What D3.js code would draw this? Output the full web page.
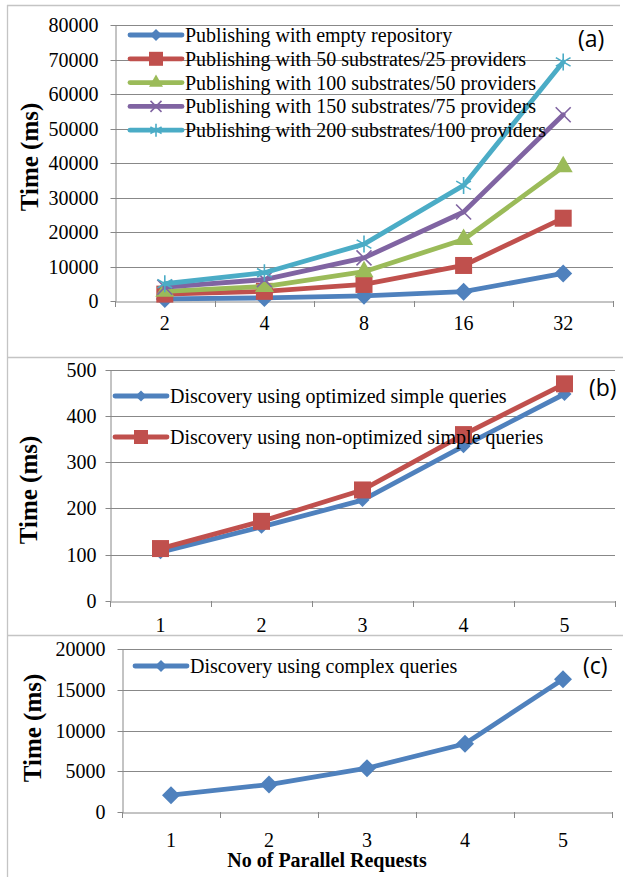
<!DOCTYPE html>
<html><head><meta charset="utf-8">
<script src="https://d3js.org/d3.v7.min.js"></script>
<style>
html,body{margin:0;padding:0;background:#fff;}
svg{display:block;}
text{font-family:"Liberation Serif","Times New Roman",serif;fill:#000;}
text.tag{font-family:"Open Sans","Noto Sans",sans-serif;}
</style></head>
<body>
<svg id="chart" width="623" height="877"></svg>
<script>
// ---------- DATA ----------
const catsA = ["2", "4", "8", "16", "32"];
const namesA = [
  "Publishing with empty repository",
  "Publishing with 50 substrates/25 providers",
  "Publishing with 100 substrates/50 providers",
  "Publishing with 150 substrates/75 providers",
  "Publishing with 200 substrates/100 providers"
];
const pubEmpty = [600, 900, 1500, 2700, 8000];
const pub50 = [2000, 2800, 4800, 10300, 24000];
const pub100 = [2800, 4200, 8500, 17800, 38900];
const pub150 = [4000, 6200, 12500, 25800, 54000];
const pub200 = [5000, 8200, 16500, 33500, 69300];
const ticksA = [0, 10000, 20000, 30000, 40000, 50000, 60000, 70000, 80000];

const catsB = ["1", "2", "3", "4", "5"];
const namesB = ["Discovery using optimized simple queries", "Discovery using non-optimized simple queries"];
const discOpt = [105, 160, 218, 335, 448];
const discNonOpt = [113, 172, 240, 360, 470];
const ticksB = [0, 100, 200, 300, 400, 500];

const catsC = ["1", "2", "3", "4", "5"];
const namesC = ["Discovery using complex queries"];
const discComplex = [2100, 3400, 5400, 8400, 16300];
const ticksC = [0, 5000, 10000, 15000, 20000];

const yTitle = "Time (ms)";
const xTitle = "No of Parallel Requests";

// ---------- STYLE ----------
const C = {blue:"#4F81BD", red:"#C0504D", green:"#9BBB59", purple:"#8064A2", cyan:"#4BACC6"};
const grid = "#888888";
const frame = "#c4c4c4";

const svg = d3.select("#chart");

// panel frames
const fr = svg.append("g").attr("stroke", frame).attr("stroke-width", 1.3).attr("fill", "none");
fr.append("line").attr("x1", 7.5).attr("x2", 7.5).attr("y1", 5).attr("y2", 877);
fr.append("line").attr("x1", 7).attr("x2", 620).attr("y1", 5.5).attr("y2", 5.5);
fr.append("line").attr("x1", 7).attr("x2", 623).attr("y1", 357.5).attr("y2", 357.5);
fr.append("line").attr("x1", 7).attr("x2", 623).attr("y1", 635.5).attr("y2", 635.5);

function marker(g, type, color, s) {
  let sym, rot = 0, fill = color, stroke = "none", sw = 0;
  if (type === "diamond") { sym = d3.symbol(d3.symbolSquare, (s / Math.SQRT2) ** 2); rot = 45; }
  else if (type === "square") { sym = d3.symbol(d3.symbolSquare, s * s); }
  else if (type === "triangle") { sym = d3.symbol(d3.symbolTriangle, s * s * Math.sqrt(3) / 4); }
  else if (type === "x") { sym = d3.symbol(d3.symbolX, (s / 2 / 0.6189) ** 2 + 1.7); fill = "none"; stroke = color; sw = 1.6; }
  else if (type === "asterisk") { sym = d3.symbol(d3.symbolAsterisk, (s / 2 / 0.59436) ** 2 - 0.75); fill = "none"; stroke = color; sw = 1.6; }
  return g.append("path").attr("d", sym())
    .attr("transform", (g.attr("data-t") || "") + (rot ? ` rotate(${rot})` : ""))
    .attr("fill", fill).attr("stroke", stroke).attr("stroke-width", sw);
}

function panel(cfg) {
  const g = svg.append("g");
  const x = d3.scaleBand().domain(cfg.cats).range([cfg.x0, cfg.x1]).padding(0);
  const y = d3.scaleLinear().domain([0, cfg.ymax]).range([cfg.yb, cfg.yt]);

  // gridlines
  g.append("g").selectAll("line").data(cfg.ticks.filter(d => d > 0)).join("line")
    .attr("x1", cfg.x0).attr("x2", cfg.x1)
    .attr("y1", d => Math.round(y(d)) + 0.5).attr("y2", d => Math.round(y(d)) + 0.5)
    .attr("stroke", grid).attr("stroke-width", 1);

  // y axis
  const ya = g.append("g").attr("transform", `translate(${cfg.x0 + 0.5},0)`)
    .call(d3.axisLeft(y).tickValues(cfg.ticks).tickSize(5).tickSizeOuter(0).tickPadding(cfg.ypad).tickFormat(d3.format("d")));
  ya.select(".domain").attr("stroke", grid);
  ya.selectAll(".tick line").attr("stroke", grid);
  ya.selectAll(".tick text").attr("font-size", 20).attr("fill", "#000");
  ya.selectAll(".tick").attr("transform", d => `translate(0,${Math.round(y(d)) + 0.5})`);

  // x axis (labels centred in bands, ticks on band boundaries)
  const xa = g.append("g").attr("transform", `translate(0,${Math.round(cfg.yb) + 0.5})`)
    .call(d3.axisBottom(x).tickSize(0).tickPadding(cfg.xpad));
  xa.select(".domain").attr("stroke", grid);
  xa.selectAll(".tick text").attr("font-size", 20).attr("fill", "#000");
  const bounds = cfg.cats.map(c => x(c)).concat([cfg.x1]);
  g.append("g").selectAll("line").data(bounds).join("line")
    .attr("x1", d => Math.round(d) + 0.5).attr("x2", d => Math.round(d) + 0.5)
    .attr("y1", Math.round(cfg.yb)).attr("y2", Math.round(cfg.yb) + 6)
    .attr("stroke", grid);

  // y title
  g.append("text").text(yTitle)
    .attr("transform", `translate(${cfg.ytx},${cfg.yty}) rotate(-90)`)
    .attr("text-anchor", "middle").attr("dominant-baseline", "central")
    .attr("font-weight", "bold").attr("font-size", 25);

  // series
  const line = d3.line().x((d, i) => x(cfg.cats[i]) + x.bandwidth() / 2).y(d => y(d));
  cfg.series.forEach(s => {
    g.append("path").datum(s.values).attr("d", line)
      .attr("fill", "none").attr("stroke", s.color).attr("stroke-width", 4.8)
      .attr("stroke-linejoin", "round").attr("stroke-linecap", "round");
    s.values.forEach((v, i) => {
      const mg = g.append("g");
      mg.attr("data-t", `translate(${x(cfg.cats[i]) + x.bandwidth() / 2},${y(v)})`);
      marker(mg, s.marker, s.color, s.size);
    });
  });

  // legend
  cfg.series.forEach((s, i) => {
    const ly = cfg.ly + i * cfg.lstep;
    g.append("line").attr("x1", cfg.lx).attr("x2", cfg.lx + 52).attr("y1", ly).attr("y2", ly)
      .attr("stroke", s.color).attr("stroke-width", 4.8).attr("stroke-linecap", "round");
    const mg = g.append("g").attr("data-t", `translate(${cfg.lx + 26},${ly})`);
    marker(mg, s.marker, s.color, s.lsize);
    g.append("text").text(s.name).attr("x", cfg.lx + 55).attr("y", ly)
      .attr("dominant-baseline", "central").attr("font-size", 20);
  });

  // panel tag
  g.append("text").attr("class", "tag").text(cfg.tag).attr("x", cfg.tagx).attr("y", cfg.tagy)
    .attr("dominant-baseline", "central").attr("font-size", 23);
}

panel({
  cats: catsA, ymax: 80000, ticks: ticksA,
  x0: 115, x1: 613, yb: 301, yt: 25, ypad: 12, xpad: 14,
  ytx: 29, yty: 157,
  lx: 130, ly: 35, lstep: 23.8,
  tag: "(a)", tagx: 578, tagy: 38,
  series: [
    {name: namesA[0], values: pubEmpty, color: C.blue, marker: "diamond", size: 18, lsize: 12},
    {name: namesA[1], values: pub50, color: C.red, marker: "square", size: 17, lsize: 14},
    {name: namesA[2], values: pub100, color: C.green, marker: "triangle", size: 19, lsize: 14},
    {name: namesA[3], values: pub150, color: C.purple, marker: "x", size: 15, lsize: 11},
    {name: namesA[4], values: pub200, color: C.cyan, marker: "asterisk", size: 17, lsize: 13}
  ]
});

panel({
  cats: catsB, ymax: 500, ticks: ticksB,
  x0: 110, x1: 615, yb: 600.7, yt: 370, ypad: 9, xpad: 16,
  ytx: 28, yty: 490,
  lx: 115, ly: 396, lstep: 41,
  tag: "(b)", tagx: 589, tagy: 387,
  series: [
    {name: namesB[0], values: discOpt, color: C.blue, marker: "diamond", size: 14, lsize: 11},
    {name: namesB[1], values: discNonOpt, color: C.red, marker: "square", size: 17, lsize: 14}
  ]
});

panel({
  cats: catsC, ymax: 20000, ticks: ticksC,
  x0: 122, x1: 612, yb: 812.3, yt: 649, ypad: 12, xpad: 20,
  ytx: 32, yty: 728,
  lx: 135, ly: 666, lstep: 30,
  tag: "(c)", tagx: 583, tagy: 665,
  series: [
    {name: namesC[0], values: discComplex, color: C.blue, marker: "diamond", size: 18, lsize: 12}
  ]
});

// x title
svg.append("text").text(xTitle).attr("x", 327).attr("y", 860)
  .attr("text-anchor", "middle").attr("dominant-baseline", "central")
  .attr("font-weight", "bold").attr("font-size", 20);
</script>
</body></html>
